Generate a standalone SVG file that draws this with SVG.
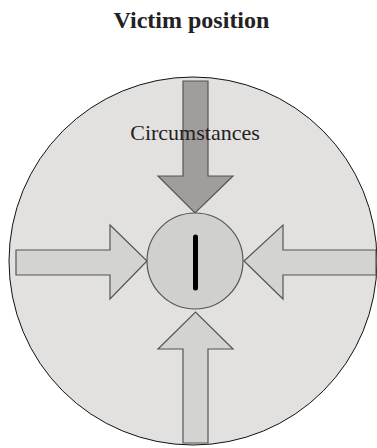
<svg xmlns="http://www.w3.org/2000/svg" width="377" height="448" viewBox="0 0 377 448">
<style>
.title{font-family:"Liberation Serif","Times New Roman",serif;font-weight:bold;font-size:24px;fill:#222;text-anchor:middle}
.lbl{font-family:"Liberation Serif","Times New Roman",serif;font-size:22px;fill:#222;text-anchor:middle}
.arrow{stroke:#555;stroke-width:1.2;stroke-linejoin:miter}
.light{fill:#d3d3d1}
.dark{fill:#a19d9b}
</style>
<rect width="377" height="448" fill="#ffffff"/>
<text class="title" x="191.5" y="28">Victim position</text>
<g id="outer">
<circle cx="193" cy="261" r="184" fill="#e2e1e0" stroke="#111" stroke-width="1"/>
</g>
<g id="connectors">
<polygon class="arrow dark" points="183,81 208,81 208,176 233,176 195,213 158,176 183,176"/>
<polygon class="arrow light" points="16,250 110,250 110,225 147,261 110,299 110,275 16,275"/>
<polygon class="arrow light" points="376,250 283,250 283,225 244,261 283,299 283,275 376,275"/>
<polygon class="arrow light" points="183,443 208,443 208,349 233,349 195.5,312 158,349 183,349"/>
</g>
<g id="victim">
<circle cx="195" cy="261" r="48" fill="#d0d0cf" stroke="#555" stroke-width="1.2"/>
<line x1="195.5" y1="237" x2="195.5" y2="288" stroke="#000" stroke-width="5" stroke-linecap="round"/>
</g>
<g id="circumstances">
<text class="lbl" x="195" y="140">Circumstances</text>
</g>
</svg>
